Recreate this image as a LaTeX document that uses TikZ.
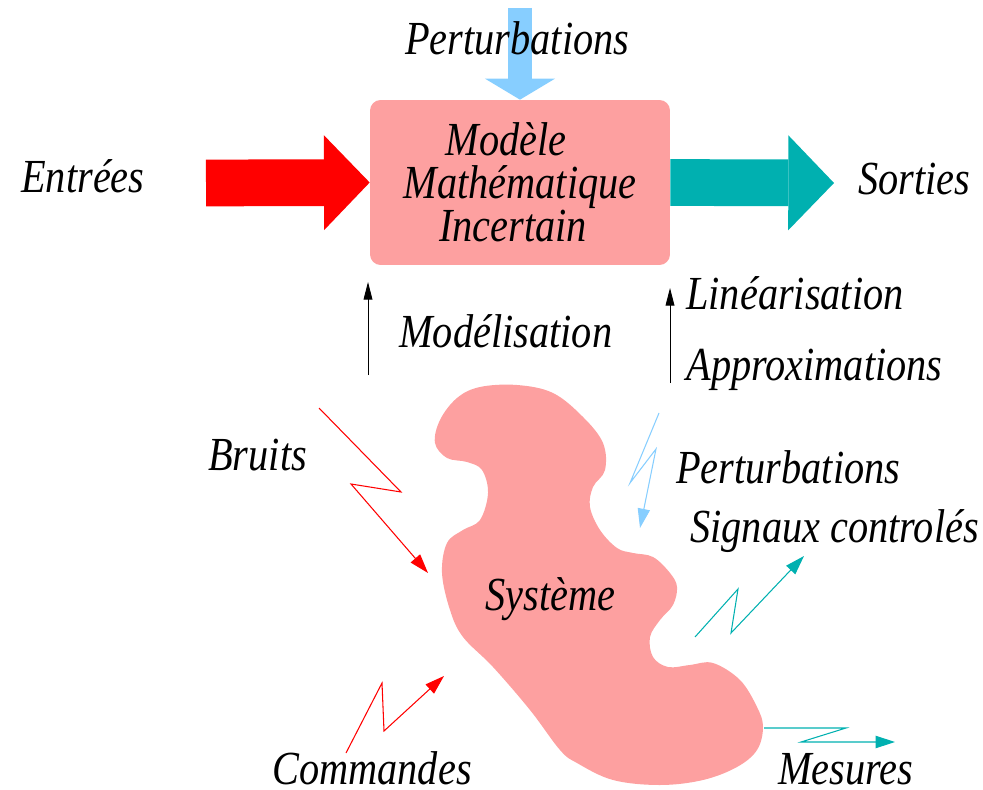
\documentclass[tikz,border=0pt]{standalone}
\usepackage{fontspec}
\setmainfont{Liberation Serif}[FakeStretch=0.85]
\usetikzlibrary{arrows.meta}

\definecolor{rose}{RGB}{253,160,160}
\definecolor{sarcelle}{RGB}{0,176,176}
\definecolor{ciel}{RGB}{135,206,255}

\begin{document}
\begin{tikzpicture}[x=0.02cm,y=-0.02cm]
        \tikzstyle{every node}=[font=\itshape\fontsize{27}{24.5}\selectfont]
        \tikzstyle{mot}=[anchor=base west,inner sep=0pt]
        \tikzstyle{modele}=[fill=rose,rounded corners=6pt,minimum width=6cm,minimum height=3.3cm,align=center,inner sep=0pt]
        \tikzstyle{grosse}=[-{Triangle[length=26pt,width=54pt,line width=0pt]},line width=26.6pt]
        \tikzstyle{fine}=[-{Triangle[length=10pt,width=5pt]},line width=0.5pt]
        \tikzstyle{eclair}=[-{Triangle[length=11pt,width=7pt]},line width=0.6pt]

        \useasboundingbox (0,0) rectangle (983,790);

        % Le modele
        \node[modele] (M) at (520,182.5) {Modèle\hspace*{16pt}\\Mathématique\hspace*{12pt}\\Incertain\hspace*{8pt}};

        % Le systeme
        \fill[rose] plot[smooth cycle,tension=0.6] coordinates {
            (480,387) (517,385) (553,393) (583,417) (603,443) (605,470)
            (593,487) (590,507) (600,530) (617,548) (633,553) (653,557)
            (670,573) (677,587) (673,605) (660,620) (650,637) (653,657)
            (668,667) (690,665) (713,663) (740,680) (757,707) (763,727)
            (757,750) (737,767) (703,780) (660,785) (613,780) (577,763)
            (560,750) (530,710) (493,667) (463,637) (450,610) (442,573)
            (447,543) (463,530) (480,520) (488,493) (482,470) (467,462)
            (447,458) (435,443) (440,420) (457,398)};
        \node[mot] (S) at (485,610) {Système};

        % Les grosses fleches
        \coordinate (ent) at (206,183);
        \coordinate (sor) at (834,183);
        \coordinate (pert) at (520,8);
        \draw[grosse,red] (ent) -- (M.west);
        \draw[grosse,sarcelle] (M.east) -- (sor);
        \draw[-{Triangle[length=12pt,width=40pt,line width=0pt]},line width=14pt,ciel] (pert) -- (M.north);

        % Les textes autour du modele
        \node[mot] (tpert) at (405,55) {Perturbations};
        \node[mot] (tent) at (21,193) {Entrées};
        \node[mot] (tsor) at (858,195) {Sorties};
        \node[mot] (tmod) at (399,347) {Modélisation};
        \node[mot] (tlin) at (686,310) {Linéarisation};
        \node[mot] (tapp) at (686,380) {Approximations};

        % Modelisation et linearisation
        \coordinate (mod0) at (368,375);
        \coordinate (mod1) at (368,282);
        \coordinate (lin0) at (670,383);
        \coordinate (lin1) at (670,288);
        \draw[fine] (mod0) -- (mod1);
        \draw[fine] (lin0) -- (lin1);

        % Les eclairs autour du systeme
        \coordinate (br0) at (319,408);
        \coordinate (br1) at (428,573);
        \draw[eclair,red] (br0) -- (401,492) -- (351,484) -- (br1);
        \coordinate (co0) at (346,753);
        \coordinate (co1) at (444,676);
        \draw[eclair,red] (co0) -- (382,683) -- (384,731) -- (co1);
        \coordinate (pe0) at (659,413);
        \coordinate (pe1) at (640,528);
        \draw[eclair,ciel] (pe0) -- (630,483) -- (656,449) -- (pe1);
        \coordinate (si0) at (695,637);
        \coordinate (si1) at (804,556);
        \draw[eclair,sarcelle] (si0) -- (738,589) -- (731,633) -- (si1);
        \coordinate (me0) at (764,728);
        \coordinate (me1) at (895,742);
        \draw[eclair,sarcelle] (me0) -- (846,728) -- (801,742) -- (me1);

        % Les textes autour du systeme
        \node[mot] (tbr) at (208,470) {Bruits};
        \node[mot] (tpe) at (676,483) {Perturbations};
        \node[mot] (tsi) at (690,542) {Signaux controlés};
        \node[mot] (tco) at (272,784) {Commandes};
        \node[mot] (tme) at (778,784) {Mesures};
\end{tikzpicture}
\end{document}
